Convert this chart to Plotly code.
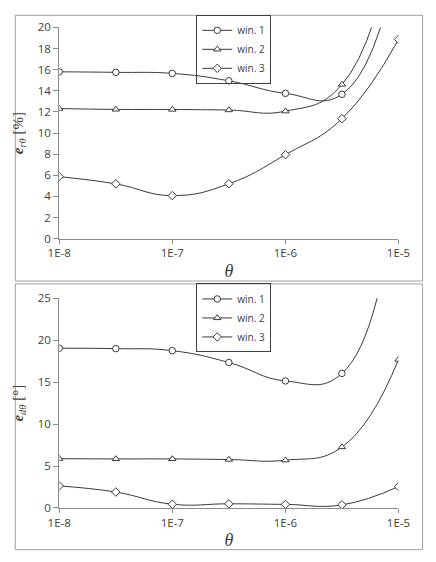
import plotly.graph_objects as go

# ---- data ----
theta = [1e-8, 3.162e-8, 1e-7, 3.162e-7, 1e-6, 3.162e-6, 1e-5]
x_tickvals = [1e-8, 1e-7, 1e-6, 1e-5]
x_ticktext = ["1E-8", "1E-7", "1E-6", "1E-5"]

top_win1 = [15.8, 15.75, 15.65, 14.95, 13.76, 13.67, 27.0]
top_win2 = [12.32, 12.24, 12.23, 12.18, 12.07, 14.6, 31.0]
top_win3 = [5.87, 5.19, 4.08, 5.2, 7.95, 11.36, 18.87]

bot_win1 = [19.05, 19.0, 18.76, 17.35, 15.15, 16.05, 42.0]
bot_win2 = [5.88, 5.85, 5.85, 5.78, 5.7, 7.27, 17.7]
bot_win3 = [2.63, 1.9, 0.45, 0.5, 0.43, 0.37, 2.55]

names = ["win. 1", "win. 2", "win. 3"]
symbols = ["circle", "triangle-up", "diamond"]

W, H = 436, 562
LINE = "#3a3a3a"
AXC = "#8c8c8c"
TXT = "#404040"

fig = go.Figure()

def add_series(ys, xa, ya, legend):
    for name, sym, y in zip(names, symbols, ys):
        fig.add_trace(go.Scatter(
            x=theta, y=y, name=name, mode="lines+markers",
            xaxis=xa, yaxis=ya, legend=legend,
            line=dict(color=LINE, width=1, shape="spline", smoothing=1.3),
            marker=dict(symbol=sym, size=6.5, color="white",
                        line=dict(color=LINE, width=1)),
            cliponaxis=True,
        ))

add_series([top_win1, top_win2, top_win3], "x", "y", "legend")
add_series([bot_win1, bot_win2, bot_win3], "x2", "y2", "legend2")

def px_x(p):
    return p / W

def px_y(p):
    return 1 - p / H

xdom = [px_x(50), px_x(409)]
tick_font = dict(family="Open Sans", size=11.5, color=TXT)
theta_title = dict(text="<i>θ</i>", font=dict(family="Liberation Serif", size=18, color=TXT), standoff=4)

xaxis_common = dict(type="log", range=[-8, -5], tickvals=x_tickvals, ticktext=x_ticktext,
                    showline=True, linecolor=AXC, linewidth=1, ticks="outside",
                    tickcolor=AXC, ticklen=4, showgrid=False, zeroline=False,
                    tickfont=tick_font, title=theta_title)
yaxis_common = dict(showline=True, linecolor=AXC, linewidth=1, ticks="outside",
                    tickcolor=AXC, ticklen=5, showgrid=False, zeroline=False,
                    tickfont=tick_font)

legend_common = dict(xanchor="left", yanchor="top",
                     bordercolor="#404040", borderwidth=1, bgcolor="rgba(255,255,255,0)",
                     font=dict(family="Open Sans", size=10, color=TXT),
                     tracegroupgap=0, itemwidth=30)

fig.update_layout(
    width=W, height=H,
    margin=dict(l=0, r=0, t=0, b=0),
    paper_bgcolor="white", plot_bgcolor="white",
    xaxis=dict(domain=xdom, anchor="y", **xaxis_common),
    yaxis=dict(domain=[px_y(237), px_y(20)], anchor="x", range=[0, 20], dtick=2,
               title=dict(text="<b><i>e</i></b><sub><i>rθ</i></sub> [%]",
                          font=dict(family="Liberation Serif", size=15, color=TXT), standoff=10),
               **yaxis_common),
    xaxis2=dict(domain=xdom, anchor="y2", **xaxis_common),
    yaxis2=dict(domain=[px_y(513.7), px_y(298.3)], anchor="x2", range=[0, 25], dtick=5,
                title=dict(text="<b><i>e</i></b><sub><i>dθ</i></sub> [°]",
                           font=dict(family="Liberation Serif", size=15, color=TXT), standoff=10),
                **yaxis_common),
    legend=dict(x=px_x(195), y=px_y(7), **legend_common),
    legend2=dict(x=px_x(195), y=px_y(283), **legend_common),
    shapes=[
        dict(type="rect", xref="paper", yref="paper", x0=px_x(3.5), x1=px_x(434.5),
             y0=px_y(280.5), y1=px_y(7.5), line=dict(color="#a0a0a0", width=1), layer="below"),
        dict(type="rect", xref="paper", yref="paper", x0=px_x(3.5), x1=px_x(434.5),
             y0=px_y(556.5), y1=px_y(283.5), line=dict(color="#a0a0a0", width=1), layer="below"),
    ],
)

fig.write_html("out.html")
